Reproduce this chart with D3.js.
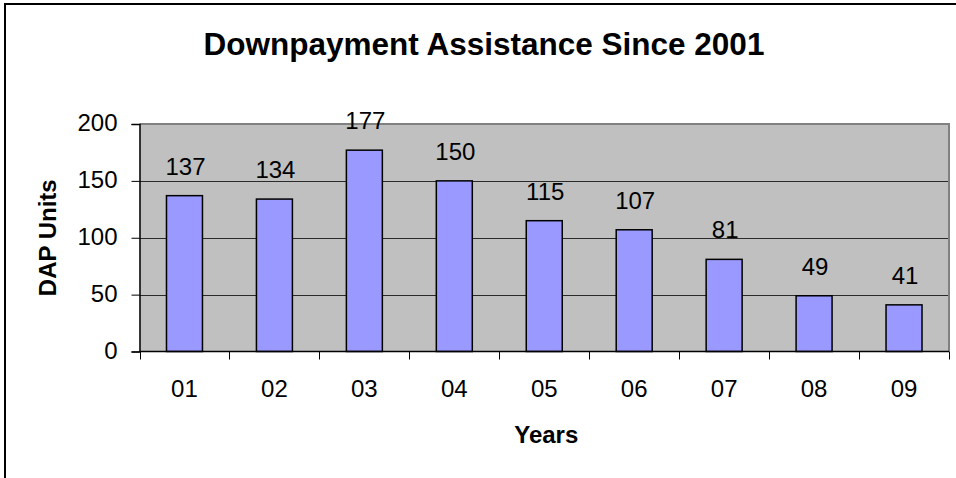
<!DOCTYPE html>
<html>
<head>
<meta charset="utf-8">
<script src="https://cdn.jsdelivr.net/npm/d3@7"></script>
<style>
  html, body { margin: 0; padding: 0; background: #ffffff; }
  svg { display: block; font-family: "Liberation Sans", Arial, sans-serif; }
</style>
</head>
<body>
<svg id="chart" width="956" height="478"></svg>
<script>
// Downpayment assistance units per year
const years = ["01", "02", "03", "04", "05", "06", "07", "08", "09"];
const units = [137, 134, 177, 150, 115, 107, 81, 49, 41];
const yTicks = [0, 50, 100, 150, 200];

const titleText = "Downpayment Assistance Since 2001";
const xTitle = "Years";
const yTitle = "DAP Units";

const svg = d3.select("#chart");

// outer frame (runs past the right and bottom edges)
svg.append("rect")
  .attr("x", 5).attr("y", 4)
  .attr("width", 1000).attr("height", 1000)
  .attr("fill", "none")
  .attr("stroke", "#000").attr("stroke-width", 2);

const plot = { left: 139.5, right: 949, top: 124, bottom: 351.5 };

const x = d3.scaleBand()
  .domain(years)
  .range([plot.left, plot.right])
  .paddingInner(0.6)
  .paddingOuter(0.3);

const xBand = d3.scaleBand()
  .domain(years)
  .range([plot.left, plot.right]);

const y = d3.scaleLinear()
  .domain([0, 200])
  .range([plot.bottom, plot.top]);

// plot background
svg.append("rect")
  .attr("x", plot.left).attr("y", plot.top)
  .attr("width", plot.right - plot.left)
  .attr("height", plot.bottom - plot.top)
  .attr("fill", "#c0c0c0");

// horizontal gridlines
svg.append("g")
  .selectAll("line")
  .data(yTicks.filter(d => d > 0 && d < 200))
  .join("line")
  .attr("x1", plot.left).attr("x2", plot.right)
  .attr("y1", d => Math.round(y(d)) + 0.5)
  .attr("y2", d => Math.round(y(d)) + 0.5)
  .attr("stroke", "#2a2a2a").attr("stroke-width", 1);

// top and right plot border
svg.append("path")
  .attr("d", `M${plot.left},${plot.top} H${plot.right} V${plot.bottom}`)
  .attr("fill", "none")
  .attr("stroke", "#808080").attr("stroke-width", 2);

// bars
svg.append("g")
  .selectAll("rect")
  .data(units)
  .join("rect")
  .attr("x", (d, i) => x(years[i]))
  .attr("y", d => y(d))
  .attr("width", x.bandwidth())
  .attr("height", d => y(0) - y(d))
  .attr("fill", "#9999ff")
  .attr("stroke", "#000").attr("stroke-width", 1.5);

// value labels
svg.append("g")
  .selectAll("text")
  .data(units)
  .join("text")
  .attr("x", (d, i) => x(years[i]) + x.bandwidth() / 2 + 1)
  .attr("y", d => y(d) - 21)
  .attr("text-anchor", "middle")
  .attr("font-size", 24)
  .attr("fill", "#000")
  .text(d => d);

// y axis
const yAxis = svg.append("g")
  .attr("transform", `translate(${plot.left},0)`)
  .call(d3.axisLeft(y).tickValues(yTicks).tickSize(8).tickPadding(14).tickFormat(d3.format("d")));
yAxis.select(".domain").attr("stroke", "#000").attr("stroke-width", 1.5);
yAxis.selectAll(".tick line").attr("stroke", "#000");
yAxis.selectAll(".tick text")
  .attr("font-size", 24)
  .attr("font-family", "Liberation Sans, Arial, sans-serif")
  .attr("dy", "0.28em")
  .attr("fill", "#000");

// x axis with ticks at category boundaries
const xAxis = svg.append("g")
  .attr("transform", `translate(0,${plot.bottom})`);
xAxis.append("line")
  .attr("x1", plot.left).attr("x2", plot.right)
  .attr("stroke", "#000").attr("stroke-width", 1.5);
const boundaries = years.map(d => xBand(d)).concat([plot.right]);
xAxis.selectAll("line.tick")
  .data(boundaries)
  .join("line")
  .attr("class", "tick")
  .attr("x1", d => Math.round(d) + 0.5).attr("x2", d => Math.round(d) + 0.5)
  .attr("y1", 0).attr("y2", 8)
  .attr("stroke", "#000");
xAxis.selectAll("text")
  .data(years)
  .join("text")
  .attr("x", d => xBand(d) + xBand.bandwidth() / 2)
  .attr("y", 45)
  .attr("text-anchor", "middle")
  .attr("font-size", 24)
  .attr("fill", "#000")
  .text(d => d);

// titles
svg.append("text")
  .attr("x", 484).attr("y", 55)
  .attr("text-anchor", "middle")
  .attr("font-size", 31.5)
  .attr("font-weight", "bold")
  .text(titleText);

svg.append("text")
  .attr("x", (plot.left + plot.right) / 2 + 2).attr("y", 443)
  .attr("text-anchor", "middle")
  .attr("font-size", 24)
  .attr("font-weight", "bold")
  .text(xTitle);

svg.append("text")
  .attr("transform", `translate(56,${(plot.top + plot.bottom) / 2}) rotate(-90)`)
  .attr("text-anchor", "middle")
  .attr("font-size", 24)
  .attr("font-weight", "bold")
  .text(yTitle);
</script>
</body>
</html>
